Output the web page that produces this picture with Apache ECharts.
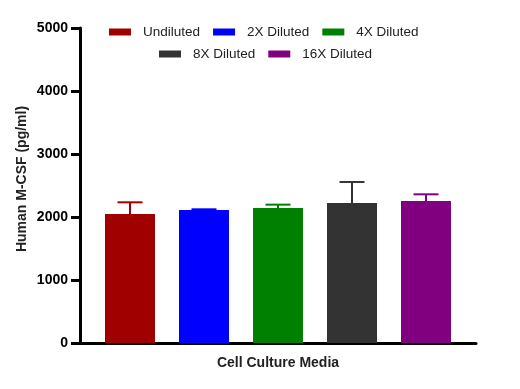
<!DOCTYPE html>
<html><head><meta charset="utf-8">
<script src="https://cdn.jsdelivr.net/npm/echarts@6/dist/echarts.min.js"></script>
<style>html,body{margin:0;padding:0;background:#fff}#c{width:520px;height:389px}</style>
</head><body><div id="c"></div>
<script>
const categories = ['Cell Culture Media'];
const seriesNames = ['Undiluted', '2X Diluted', '4X Diluted', '8X Diluted', '16X Diluted'];
const means = [2048, 2111, 2143, 2222, 2254];
const errUpper = [2233, 2122, 2196, 2556, 2360];
const colors = ['#a00000', '#0000ff', '#008000', '#333333', '#800080'];
const yTicks = [0, 1000, 2000, 3000, 4000, 5000];

const chart = echarts.init(document.getElementById('c'));
const barW = 50, step = 74;
const series = [];
seriesNames.forEach((n, i) => {
  series.push({
    name: n, type: 'bar', data: [means[i]], barWidth: barW, barGap: '48%',
    itemStyle: { color: colors[i] }
  });
});
seriesNames.forEach((n, i) => {
  series.push({
    name: n, type: 'custom', z: 1,
    data: [[0, means[i], errUpper[i]]],
    renderItem: function (params, api) {
      const base = api.coord([api.value(0), api.value(1)]);
      const top = api.coord([api.value(0), api.value(2)]);
      const x = base[0] + (i - 2) * step;
      const hw = 12.5;
      const st = { stroke: colors[i], lineWidth: 2 };
      return { type: 'group', children: [
        { type: 'line', shape: { x1: x, y1: base[1], x2: x, y2: top[1] }, style: st },
        { type: 'line', shape: { x1: x - hw, y1: top[1], x2: x + hw, y2: top[1] }, style: st }
      ]};
    }
  });
});

const legendBase = {
  itemWidth: 22, itemHeight: 7, itemGap: 13, icon: 'rect', padding: 0, orient: 'horizontal',
  textStyle: { fontFamily: 'Liberation Sans, Arial', fontSize: 13.5, color: '#222', padding: [0, 0, 0, 7] }
};

chart.setOption({
  animation: false,
  grid: { left: 80, right: 44, top: 28, bottom: 46 },
  legend: [
    Object.assign({ data: seriesNames.slice(0, 3), left: 109, top: 25 }, legendBase),
    Object.assign({ data: seriesNames.slice(3), left: 159, top: 47 }, legendBase)
  ],
  xAxis: {
    type: 'category', data: categories,
    name: 'Cell Culture Media', nameLocation: 'middle', nameGap: 13,
    nameTextStyle: { fontFamily: 'Liberation Sans, Arial', fontWeight: 'bold', fontSize: 14, color: '#222' },
    axisLine: { lineStyle: { color: '#000', width: 3 } },
    axisTick: { alignWithLabel: true, length: 7, lineStyle: { color: '#000', width: 3 } },
    axisLabel: { show: false }
  },
  yAxis: {
    type: 'value', min: 0, max: 5000, interval: 1000,
    name: 'Human M-CSF (pg/ml)', nameLocation: 'middle', nameGap: 51, nameRotate: 90,
    nameMoveOverlap: false,
    nameTextStyle: { fontFamily: 'Liberation Sans, Arial', fontWeight: 'bold', fontSize: 14, color: '#222',
      padding: [0, 0, 0, 13] },
    axisLine: { show: true, lineStyle: { color: '#000', width: 3 } },
    axisTick: { show: true, length: 9, lineStyle: { color: '#000', width: 3 } },
    axisLabel: { fontFamily: 'Liberation Sans, Arial', fontWeight: 'bold', fontSize: 14, color: '#000', margin: 12,
      formatter: v => String(v) },
    splitLine: { show: false }
  },
  series: series
});
</script></body></html>
